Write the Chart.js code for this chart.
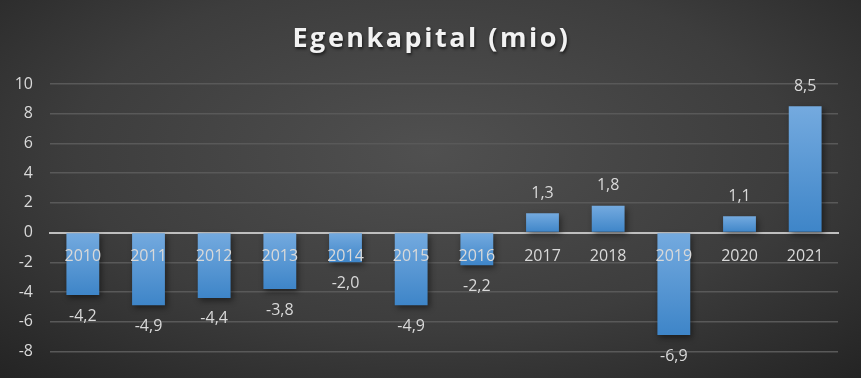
<!DOCTYPE html>
<html>
<head>
<meta charset="utf-8">
<script src="https://cdn.jsdelivr.net/npm/chart.js@4"></script>
<style>
  html, body { margin: 0; padding: 0; background: #262626; }
  #wrap {
    width: 861px; height: 378px; position: relative;
    background: radial-gradient(ellipse 75% 85% at 50% 40%, #505050 0%, #3d3d3d 55%, #222 100%);
  }
</style>
</head>
<body>
<div id="wrap"><canvas id="chart" width="861" height="378"></canvas></div>
<script>
const years = ['2010', '2011', '2012', '2013', '2014', '2015', '2016', '2017', '2018', '2019', '2020', '2021'];
const equity = [-4.2, -4.9, -4.4, -3.8, -2.0, -4.9, -2.2, 1.3, 1.8, -6.9, 1.1, 8.5];
const yTicks = [-8, -6, -4, -2, 0, 2, 4, 6, 8, 10];
const titleText = 'Egenkapital (mio)';

const textColor = '#d9d9d9';
const fontFamily = '"Open Sans", "DejaVu Sans", sans-serif';

// title, category labels on the zero line, and value labels
const overlay = {
  id: 'overlay',
  afterDraw(chart) {
    const ctx = chart.ctx;
    const xs = chart.scales.x;
    const ys = chart.scales.y;
    const meta = chart.getDatasetMeta(0);
    const zero = ys.getPixelForValue(0);

    ctx.save();
    // title
    ctx.font = 'bold 27px ' + fontFamily;
    ctx.letterSpacing = '2.5px';
    ctx.fillStyle = '#f2f2f2';
    ctx.textAlign = 'center';
    ctx.textBaseline = 'alphabetic';
    ctx.shadowColor = 'rgba(0,0,0,0.6)';
    ctx.shadowBlur = 3;
    ctx.shadowOffsetX = 1;
    ctx.shadowOffsetY = 2;
    ctx.fillText(titleText, chart.width / 2 + 1, 47);
    ctx.restore();

    ctx.save();
    ctx.fillStyle = textColor;
    ctx.font = '16px ' + fontFamily;
    ctx.textAlign = 'center';
    ctx.textBaseline = 'middle';
    years.forEach((yr, i) => {
      ctx.fillText(yr, xs.getPixelForValue(i), zero + 24);
    });
    meta.data.forEach((bar, i) => {
      const v = equity[i];
      const txt = v.toFixed(1).replace('.', ',');
      const y = v >= 0 ? bar.y - 20 : bar.y + 21;
      ctx.fillText(txt, bar.x, y);
    });
    ctx.restore();
  }
};

// soft drop shadow under the bars
const barShadow = {
  id: 'barShadow',
  beforeDatasetsDraw(chart) {
    const ctx = chart.ctx;
    ctx.save();
    ctx.shadowColor = 'rgba(0,0,0,0.45)';
    ctx.shadowBlur = 6;
    ctx.shadowOffsetX = 2;
    ctx.shadowOffsetY = 3;
  },
  afterDatasetsDraw(chart) {
    chart.ctx.restore();
  }
};

function barFill(context) {
  const chart = context.chart;
  const y = chart.scales && chart.scales.y;
  if (!chart.chartArea || !y || !context.parsed) return '#5b9bd5';
  const p0 = y.getPixelForValue(0);
  const p1 = y.getPixelForValue(context.parsed.y);
  const top = Math.min(p0, p1), bottom = Math.max(p0, p1);
  if (!isFinite(top) || !isFinite(bottom) || top === bottom) return '#5b9bd5';
  const g = chart.ctx.createLinearGradient(0, top, 0, bottom);
  g.addColorStop(0, '#74aadf');
  g.addColorStop(1, '#3e85c8');
  return g;
}

new Chart(document.getElementById('chart'), {
  type: 'bar',
  data: {
    labels: years,
    datasets: [{
      data: equity,
      backgroundColor: barFill,
      barPercentage: 0.5,
      categoryPercentage: 1.0,
      borderWidth: 0
    }]
  },
  options: {
    responsive: false,
    animation: false,
    devicePixelRatio: 1,
    layout: { padding: { left: 0, right: 23, top: 84, bottom: 21 } },
    plugins: {
      legend: { display: false },
      tooltip: { enabled: false },
      title: { display: false }
    },
    scales: {
      x: {
        position: { y: 0 },
        z: 1,
        afterFit(scale) { scale.height = 0; },
        grid: { display: false, drawTicks: false },
        border: { display: true, color: '#bfbfbf', width: 2 },
        ticks: { display: false }
      },
      y: {
        min: -8,
        max: 10,
        afterFit(scale) { scale.width = 50; },
        afterBuildTicks(scale) { scale.ticks = yTicks.map(v => ({ value: v })); },
        grid: { color: '#595959', lineWidth: 1.5, drawTicks: false },
        border: { display: false },
        ticks: { color: textColor, font: { family: fontFamily, size: 16 }, padding: 17 }
      }
    }
  },
  plugins: [barShadow, overlay]
});
</script>
</body>
</html>
